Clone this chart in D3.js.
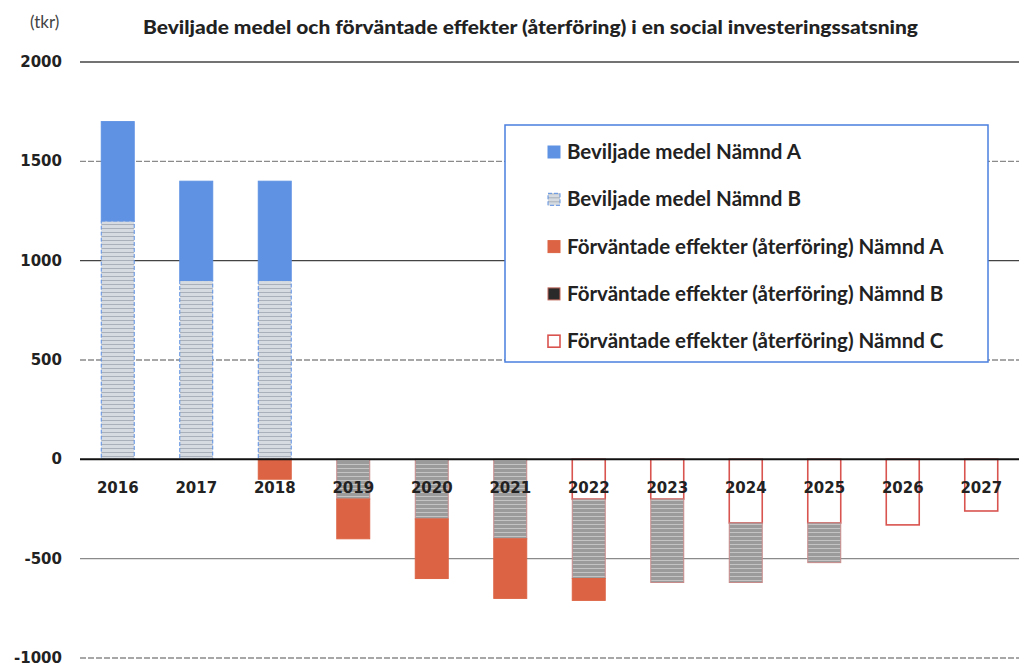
<!DOCTYPE html>
<html>
<head>
<meta charset="utf-8">
<script src="https://cdn.jsdelivr.net/npm/d3@7"></script>
<style>
  body { margin: 0; background: #fff; }
  text { fill: #222; }
</style>
</head>
<body>
<svg id="chart" width="1019" height="666"></svg>
<script>
// Data (tkr)
const years = ['2016', '2017', '2018', '2019', '2020', '2021', '2022', '2023', '2024', '2025', '2026', '2027']
const beviljadeA = [500, 500, 500, 0, 0, 0, 0, 0, 0, 0, 0, 0]
const beviljadeB = [1200, 900, 900, 0, 0, 0, 0, 0, 0, 0, 0, 0]
const effekterA = [0, 0, -100, -200, -300, -300, -110, 0, 0, 0, 0, 0]
const effekterB = [0, 0, 0, -200, -300, -400, -400, -420, -300, -200, 0, 0]
const effekterC = [0, 0, 0, 0, 0, 0, -200, -200, -320, -320, -330, -260]
const yTicks = [2000, 1500, 1000, 500, 0, -500, -1000]

const seriesNames = {
  bevA: 'Beviljade medel Nämnd A',
  bevB: 'Beviljade medel Nämnd B',
  effA: 'Förväntade effekter (återföring) Nämnd A',
  effB: 'Förväntade effekter (återföring) Nämnd B',
  effC: 'Förväntade effekter (återföring) Nämnd C'
}

const rows = years.map((year, i) => ({
  year,
  bevB: beviljadeB[i],
  bevA: beviljadeA[i],
  effC: effekterC[i],
  effB: effekterB[i],
  effA: effekterA[i]
}))

const svg = d3.select('#chart')

// Patterns
const defs = svg.append('defs')
const stripes = (id, bg, line) => {
  const p = defs.append('pattern')
    .attr('id', id)
    .attr('patternUnits', 'userSpaceOnUse')
    .attr('width', 6)
    .attr('height', 4)
  p.append('rect').attr('width', 6).attr('height', 4).attr('fill', bg)
  p.append('line')
    .attr('x1', 0).attr('x2', 6).attr('y1', 0.5).attr('y2', 0.5)
    .attr('stroke', line).attr('stroke-width', 1)
}
stripes('patBevB', '#d6dbe1', '#a9b0b9')
stripes('patEffB', '#9b9b9b', '#c4c4c4')

const styles = {
  bevA: { fill: '#5f92e3', stroke: '#5f92e3', dash: null },
  bevB: { fill: 'url(#patBevB)', stroke: '#5b8fe2', dash: '4,2' },
  effA: { fill: '#dc6444', stroke: '#dc6444', dash: null },
  effB: { fill: 'url(#patEffB)', stroke: '#c98a8a', dash: null },
  effC: { fill: 'none', stroke: '#d9534f', dash: null }
}

// Scales
const x = d3.scaleBand()
  .domain(years)
  .range([78.5, 1020.5])
  .paddingInner(0.58)
  .paddingOuter(0.29)

const y = d3.scaleLinear()
  .domain([-1000, 2000])
  .range([658, 62])

// Gridlines
const grid = svg.append('g').attr('class', 'grid')
grid.selectAll('line')
  .data(yTicks.filter(d => d !== 0))
  .enter()
  .append('line')
  .attr('x1', 80)
  .attr('x2', 1019)
  .attr('y1', d => y(d))
  .attr('y2', d => y(d))
  .attr('stroke', d => (d === 2000 || d === 1000) ? '#444' : '#8a8a8a')
  .attr('stroke-width', 1.3)
  .attr('stroke-dasharray', d => (d === 1500 || d === 500 || d === -1000) ? '6,2' : null)

// Y tick labels
svg.append('g')
  .selectAll('text')
  .data(yTicks)
  .enter()
  .append('text')
  .attr('x', 62)
  .attr('y', d => y(d) + 5)
  .attr('text-anchor', 'end')
  .style('font', 'bold 15px "DejaVu Sans"')
  .text(d => d)

// Bars
const stack = d3.stack()
  .keys(['bevB', 'bevA', 'effC', 'effB', 'effA'])
  .offset(d3.stackOffsetDiverging)

const layers = svg.append('g')
  .selectAll('g.layer')
  .data(stack(rows))
  .enter()
  .append('g')
  .attr('class', 'layer')

layers.selectAll('rect')
  .data(layer => layer.map(d => ({ key: layer.key, d })))
  .enter()
  .filter(({ d }) => d[0] !== d[1])
  .append('rect')
  .attr('x', ({ d }) => x(d.data.year))
  .attr('width', x.bandwidth())
  .attr('y', ({ d }) => y(Math.max(d[0], d[1])))
  .attr('height', ({ d }) => Math.abs(y(d[0]) - y(d[1])))
  .attr('fill', ({ key }) => styles[key].fill)
  .attr('stroke', ({ key }) => styles[key].stroke)
  .attr('stroke-width', ({ key }) => key === 'effC' ? 1.6 : 1)
  .attr('stroke-dasharray', ({ key }) => styles[key].dash)

// Zero line
svg.append('line')
  .attr('x1', 80)
  .attr('x2', 1019)
  .attr('y1', y(0))
  .attr('y2', y(0))
  .attr('stroke', '#111')
  .attr('stroke-width', 2)

// X labels
svg.append('g')
  .selectAll('text')
  .data(years)
  .enter()
  .append('text')
  .attr('x', d => x(d) + x.bandwidth() / 2)
  .attr('y', 493)
  .attr('text-anchor', 'middle')
  .style('font', 'bold 15px "DejaVu Sans"')
  .text(d => d)

// Title
svg.append('text')
  .attr('x', 143)
  .attr('y', 34)
  .attr('textLength', 775)
  .attr('lengthAdjust', 'spacingAndGlyphs')
  .style('font', '900 19px Lato')
  .text('Beviljade medel och förväntade effekter (återföring) i en social investeringssatsning')

svg.append('text')
  .attr('x', 30)
  .attr('y', 28)
  .style('font', '17px Lato')
  .style('fill', '#444')
  .text('(tkr)')

// Legend
const legend = svg.append('g')
  .attr('class', 'legend')
  .attr('transform', 'translate(505,125)')

legend.append('rect')
  .attr('width', 483)
  .attr('height', 237)
  .attr('fill', '#fff')
  .attr('stroke', '#4a7fe0')
  .attr('stroke-width', 1.5)

const legendKeys = ['bevA', 'bevB', 'effA', 'effB', 'effC']
const items = legend.selectAll('g.item')
  .data(legendKeys)
  .enter()
  .append('g')
  .attr('class', 'item')
  .attr('transform', (d, i) => `translate(43, ${21 + i * 47.3})`)

items.append('rect')
  .attr('width', 12)
  .attr('height', 12)
  .attr('fill', d => d === 'effB' ? '#2a2a2a' : d === 'effC' ? '#fff' : styles[d].fill)
  .attr('stroke', d => d === 'effB' ? '#c0665a' : styles[d].stroke)
  .attr('stroke-width', d => d === 'effC' ? 1.6 : 1)
  .attr('stroke-dasharray', d => styles[d].dash)

items.append('text')
  .attr('x', 19)
  .attr('y', 13)
  .style('font', 'bold 20.5px Lato')
  .text(d => seriesNames[d])
</script>
</body>
</html>
